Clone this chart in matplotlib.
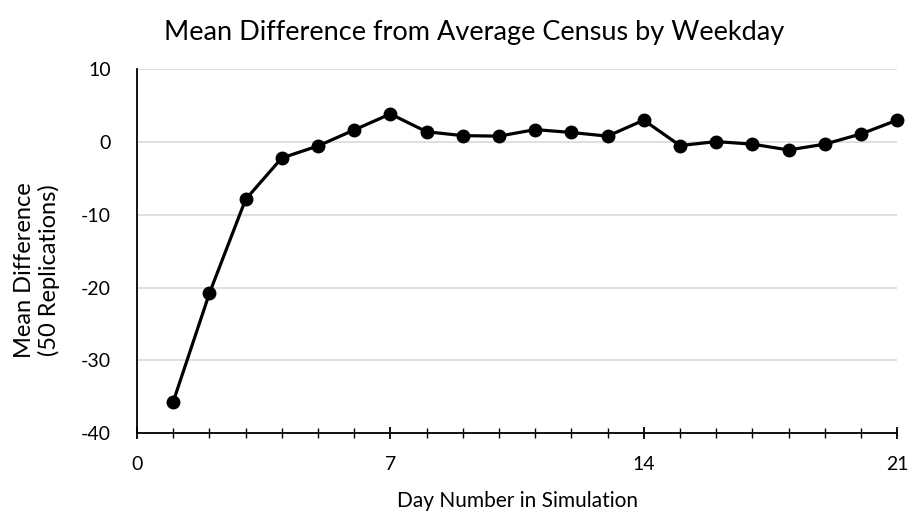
import numpy as np
import matplotlib.pyplot as plt

# Daily mean difference (50 replications)
days = list(range(1, 22))
mean_diff = [-35.7, -20.8, -7.9, -2.2, -0.55, 1.65, 3.85, 1.4, 0.87, 0.8,
             1.7, 1.3, 0.8, 3.0, -0.5, 0.05, -0.3, -1.1, -0.3, 1.1, 3.0]
xticks = [0, 7, 14, 21]
yticks = [-40, -30, -20, -10, 0, 10]

plt.rcParams['font.family'] = ['Lato', 'DejaVu Sans']
plt.rcParams['axes.unicode_minus'] = False

fig = plt.figure(figsize=(9.09, 5.2), dpi=100)
ax = fig.add_axes([0.1507, 0.167, 0.8363, 0.70])

ax.plot(days, mean_diff, color='black', lw=2.3, marker='o', markersize=9, zorder=3, clip_on=False)

ax.set_xlim(0, 21)
ax.set_ylim(-40, 10)
ax.set_xticks(xticks)
ax.set_xticks(range(0, 22), minor=True)
ax.set_yticks(yticks)
ax.yaxis.grid(True, color='#d9d9d9', lw=1.2)
ax.set_axisbelow(True)

for s in ['top', 'right']:
    ax.spines[s].set_visible(False)
for s in ['left', 'bottom']:
    ax.spines[s].set_color('black')
    ax.spines[s].set_linewidth(1.3)

ax.tick_params(axis='y', length=0, labelsize=14, pad=19)
ax.tick_params(axis='x', which='major', direction='inout', length=9, width=1.3, labelsize=14, pad=12)
ax.tick_params(axis='x', which='minor', direction='inout', length=7, width=1)

# title and y label placed relative to the whole chart area
fig.text(0.522, 0.938, "Mean Difference from Average Census by Weekday", fontsize=19.5,
         ha='center', va='center')
ax.set_xlabel("Day Number in Simulation", fontsize=15, labelpad=13)
fig.text(0.041, 0.48, "Mean Difference\n(50 Replications)", fontsize=17, rotation=90,
         ha='center', va='center', linespacing=1.15)

fig.savefig("out.png", dpi=100)
